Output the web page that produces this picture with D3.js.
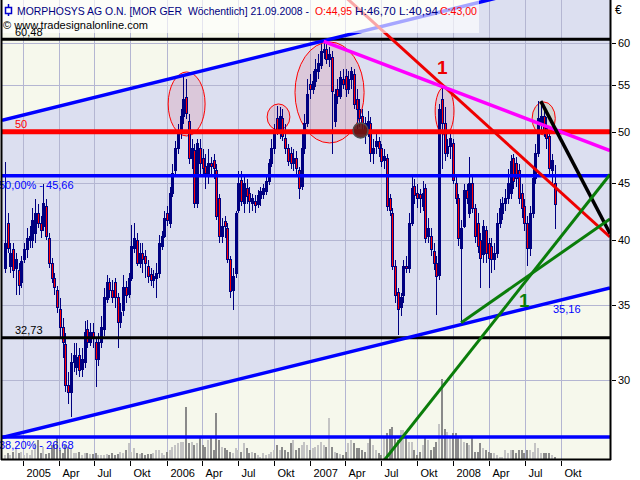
<!DOCTYPE html>
<html><head><meta charset="utf-8">
<script src="https://cdn.jsdelivr.net/npm/d3@7"></script>
<style>html,body{margin:0;padding:0;background:#fff;}svg{display:block;font-family:"Liberation Sans",Arial,sans-serif;}</style>
</head><body><svg id="c" width="640" height="480"></svg>
<script>
// ---------- DATA ----------
const firstWeek = "2004-11-15", lastWeek = "2008-09-15";
const opens = [37.77,41.40,37.9,39.2,37.77,37.6,36.63,38.4,39.2,40.0,
40.0,40.57,42.26,41.40,41.15,42.87,40.15,38.16,37.0,36.1,
34.66,33.41,32.27,29.67,29.25,31.10,30.78,31.55,30.66,31.10,
33.27,32.40,33.07,32.40,31.3,32.40,33.27,35.37,36.63,36.1,
36.63,35.52,33.75,34.6,36.26,35.75,37.0,39.34,40.0,38.16,
38.94,38.7,37.9,37.3,36.85,37.0,37.38,39.5,40.3,42.26,
41.40,44.02,46.15,48.27,49.77,51.53,53.67,51.1,47.29,48.07,
43.13,48.27,47.29,46.52,45.58,46.81,47.1,46.15,43.57,40.3,
41.57,40.98,38.4,36.1,37.38,42.5,45.2,43.13,44.47,44.02,
43.13,43.3,43.0,43.57,43.93,44.2,45.1,46.81,48.27,51.32,
50.08,51.32,49.26,48.27,47.77,46.81,47.29,46.15,44.65,48.27,
50.80,55.13,54.57,55.47,56.62,57.31,58.86,59.22,58.02,58.26,
51.1,54.57,53.79,55.70,56.04,54.57,55.70,56.27,53.46,52.38,
51.53,50.80,49.97,50.80,47.77,48.46,48.96,48.27,47.1,47.29,
43.57,42.26,37.9,35.89,34.80,35.67,37.9,37.77,41.40,44.65,
44.02,43.93,42.87,44.47,40.3,40.3,39.1,38.16,37.23,53.46,
50.80,47.77,48.46,48.76,44.93,43.57,39.34,41.15,44.3,42.26,
44.93,42.69,41.40,40.0,38.8,40.8,39.75,39.5,38.4,38.94,
41.40,42.26,43.13,43.57,44.02,47.29,46.81,46.15,44.02,42.87,
41.40,39.34,42.26,45.39,47.77,50.80,51.53,50.28,49.46,46.15,
44.95];
const highs = [47.0,42.26,39.75,39.75,38.94,38.16,38.7,39.75,40.98,41.15,
42.69,43.57,43.13,42.0,44.93,43.57,40.57,38.55,37.38,36.4,
35.52,34.10,33.07,30.47,31.74,32.40,32.40,32.07,32.07,33.9,
33.96,33.75,33.75,32.73,33.07,34.24,36.26,37.2,37.0,36.85,
37.0,35.89,35.16,37.2,36.78,37.38,41.23,41.40,40.57,39.75,
39.75,39.2,38.4,37.77,37.6,38.16,40.4,40.8,42.5,42.87,
44.65,46.81,49.06,50.80,52.38,56.04,55.70,51.85,49.26,48.76,
49.26,49.26,48.27,47.77,48.27,47.48,47.77,46.81,44.02,41.83,
42.0,41.40,38.7,37.77,42.5,46.15,46.15,45.86,45.39,44.65,
44.02,43.93,44.3,44.65,44.93,45.58,47.29,49.26,50.80,52.7,
52.6,52.38,50.80,48.76,48.46,48.27,48.07,46.52,49.77,51.85,
55.70,56.27,56.62,58.02,58.62,59.83,60.2,59.83,59.46,58.98,
54.57,55.70,56.62,56.85,56.85,56.62,57.08,56.85,54.57,53.46,
52.38,51.53,52.17,51.53,49.26,49.77,49.46,48.76,48.27,47.77,
44.02,42.69,38.4,36.26,35.89,38.4,38.7,42.26,45.86,45.39,
44.93,44.47,45.2,44.93,41.83,40.98,39.75,38.7,52.92,54.8,
52.6,49.26,49.77,49.26,45.58,44.02,41.65,44.93,44.93,47.48,
45.58,43.13,42.26,40.57,41.65,41.15,40.15,40.15,39.75,42.26,
43.57,43.75,44.47,46.33,47.67,47.77,47.48,46.81,44.93,43.57,
42.0,42.87,46.33,48.76,53.24,53.24,52.38,51.53,50.08,47.77,
46.70];
const lows = [37.38,38.94,37.38,37.0,35.75,35.75,36.26,38.16,38.55,39.34,
39.34,39.75,40.98,40.15,40.8,40.0,37.77,36.63,35.75,34.45,
32.73,31.42,29.25,28.54,27.79,30.47,30.28,30.16,30.16,30.78,
32.07,32.2,32.07,29.55,30.9,32.07,32.87,35.16,35.52,35.16,
34.80,32.07,33.41,34.24,35.16,35.52,36.78,38.94,37.9,37.77,
37.38,37.0,36.63,36.4,36.26,35.52,37.0,39.2,40.15,41.15,
40.98,43.75,45.77,47.77,49.26,50.80,51.32,46.81,46.33,42.69,
42.69,45.86,45.58,44.47,44.93,45.86,45.39,41.65,39.75,39.75,
40.15,38.16,35.52,34.66,37.0,42.26,42.87,42.26,43.13,42.26,
42.5,42.26,42.69,42.87,43.57,43.93,44.84,46.52,47.77,49.67,
49.26,49.06,47.77,46.62,46.33,46.15,45.86,43.57,44.3,47.77,
50.49,53.46,54.01,54.8,55.70,56.85,58.02,57.43,57.08,47.77,
50.49,52.92,53.46,54.57,53.67,54.01,54.57,52.38,50.28,50.49,
50.08,48.76,49.46,47.0,46.81,47.77,47.48,46.52,46.33,42.5,
42.0,37.6,35.16,32.93,34.24,35.16,37.38,37.38,41.15,43.13,
42.69,42.26,42.5,39.75,39.75,38.7,37.6,34.31,36.85,46.33,
47.1,47.48,47.29,44.93,43.13,39.5,33.75,40.98,43.13,41.83,
42.26,39.75,38.94,36.26,38.16,38.16,36.26,37.38,37.6,38.55,
40.98,41.65,42.5,43.13,43.57,44.47,44.65,43.13,41.83,40.8,
37.9,38.7,41.83,44.93,47.48,49.77,49.46,48.27,45.86,44.93,
40.94];
const closes = [39.75,39.34,38.94,37.6,38.4,36.4,38.3,39.2,40.15,40.3,
41.65,42.26,41.40,40.8,43.13,40.3,38.16,37.0,36.26,34.8,
33.41,32.40,29.67,29.25,31.10,31.55,31.42,30.6,31.3,33.07,
32.40,33.07,32.73,31.3,32.40,33.41,35.52,36.63,36.1,35.52,
35.52,33.75,34.45,36.26,35.67,37.0,39.5,40.15,38.16,38.94,
38.4,38.16,37.15,36.85,37.15,37.38,39.75,40.3,41.83,41.65,
44.02,45.86,48.27,49.97,51.53,53.46,51.85,47.29,48.27,43.13,
48.76,46.81,46.33,45.86,46.81,46.52,46.33,42.0,40.3,41.15,
41.15,38.4,36.0,37.15,42.26,44.93,43.3,44.93,43.75,43.3,
43.57,42.95,43.84,44.2,44.47,45.1,46.81,48.27,49.77,50.08,
51.53,49.46,48.27,47.0,46.81,47.29,46.33,44.47,48.27,50.80,
54.01,54.57,55.47,56.85,57.55,58.98,59.22,58.02,58.62,54.35,
54.01,53.79,55.93,55.13,54.57,55.70,56.62,52.92,52.38,51.32,
50.80,49.77,51.1,47.77,48.27,48.96,48.27,47.0,47.48,42.87,
42.5,37.9,35.67,34.66,35.52,37.9,37.77,41.40,44.47,43.84,
43.57,43.57,44.02,40.15,40.98,39.2,38.16,37.15,52.38,50.80,
47.77,48.46,49.26,45.2,43.57,40.15,40.98,44.3,43.57,44.93,
42.69,40.3,39.5,38.55,41.15,38.94,38.55,38.4,38.94,41.40,
42.69,43.13,43.57,44.93,47.0,45.1,45.39,43.57,42.69,41.40,
39.34,42.26,45.39,47.77,51.32,51.53,50.08,49.26,46.33,47.1,
43.00];
// weekly volume, thousand shares
const volumes = [40,60,40,70,110,60,70,40,60,40,
90,160,190,60,120,50,60,140,140,220,
90,60,140,120,110,60,60,70,40,60,
60,50,50,60,40,40,40,50,40,60,
40,50,70,60,90,160,70,110,60,50,
60,40,50,50,60,90,90,60,40,70,
90,120,140,160,170,170,520,160,170,140,
160,210,140,120,190,220,90,460,190,120,
110,90,70,60,110,90,70,160,110,60,
70,60,40,20,60,40,50,70,90,140,
90,120,90,70,160,190,90,110,140,170,
140,90,110,120,140,170,140,120,410,120,
70,60,50,40,70,160,190,160,110,110,
90,70,160,220,140,90,60,40,210,260,
300,320,220,190,290,290,210,170,170,90,
40,70,140,220,190,90,120,170,350,800,
300,270,210,260,260,210,210,170,160,140,
220,70,70,160,110,90,70,60,60,40,
20,20,90,60,90,90,60,90,90,60,
90,90,70,160,110,60,60,60,60,40,
20];
const priceTicks = [30,35,40,45,50,55,60];
const quarterNames = ["", "Apr", "Jul", "Okt"];
const levelValues = [60.48, 50, 45.66, 32.73, 26.68];
const levelLabels = ["60,48", "50", "50,00% - 45,66", "32,73", "38,20% - 26,68"];
// trendlines: two anchors [date, price]
const channelUpper = [["2006-01-01",55.65],["2008-01-01",64.38]];
const channelLower = [["2006-01-01",28.97],["2008-01-01",33.49]];
const redTrend     = [["2008-01-01",53.94],["2008-10-01",44.13]];
const magentaTrend = [["2007-02-05",60.2],["2008-10-01",49.98]];
const blackTrend   = [["2008-08-11",53.24],["2008-10-01",49.21]];
const greenSteep   = [["2008-01-01",30.44],["2008-10-01",40.28]];
const greenShallow = [["2008-01-21",33.75],["2008-10-01",38.94]];
// highlighted zones: [date from, date to, price high, price low]
const zones = [["2006-01-05","2006-04-09",56.53,49.56],
               ["2006-09-14","2006-11-11",52.93,50.17],
               ["2006-11-24","2007-05-19",60.13,48.85],
               ["2007-11-16","2008-01-03",54.81,49.66],
               ["2008-07-20","2008-09-17",53.15,49.66]];
const marker = ["2007-05-10", 50.12];
const lowerChannelLabel = "35,16";
const headerParts = ["MORPHOSYS AG O.N. [MOR GER  Wöchentlich] 21.09.2008 -","O:44,95","H:46,70 L:40,94","C:43,00"];
const copyright = "© www.tradesignalonline.com";

// ---------- CHART ----------
const D = s => new Date(s + "T00:00:00Z");
const weeks = d3.utcMonday.range(D(firstWeek), d3.utcDay.offset(D(lastWeek), 1));
const P = {l:2, r:610, t:0, b:459};
const x = d3.scaleUtc().domain([D("2005-01-01"), D("2008-10-01")]).range([23.3, 560.8]);
const y = d3.scaleLog().domain([30, 60]).range([380, 43]);
const vh = d3.scaleLinear().domain([0, 800]).range([0, 80]);

const svg = d3.select("#c");
svg.append("defs").append("clipPath").attr("id","clip").append("rect")
  .attr("x",P.l).attr("y",P.t).attr("width",P.r-P.l).attr("height",P.b-P.t);
const g = svg.append("g").attr("clip-path","url(#clip)");

function line(a){
  const x0=x(D(a[0][0])), y0=y(a[0][1]), x1=x(D(a[1][0])), y1=y(a[1][1]);
  const m=(y1-y0)/(x1-x0);
  return {x0, f: xx => y0 + m*(xx-x0)};
}
const cream = "#f6f8ec", lav = "#dcdff0";
g.append("rect").attr("x",P.l).attr("y",P.t).attr("width",P.r-P.l).attr("height",P.b-P.t).attr("fill",cream);
const U = line(channelUpper), L = line(channelLower);
g.append("path").attr("fill",lav)
  .attr("d", d3.line()([[P.l,U.f(P.l)],[P.r,U.f(P.r)],[P.r,L.f(P.r)],[P.l,L.f(P.l)]]));

// grid
const qTicks = d3.utcMonth.every(3).range(D("2005-01-01"), D("2008-10-02"));
const grid = g.append("g").attr("stroke","#b4b6d2").attr("stroke-width",1).attr("shape-rendering","crispEdges");
qTicks.forEach(d => { const xx=Math.round(x(d))+0.5; grid.append("line").attr("x1",xx).attr("x2",xx).attr("y1",P.t).attr("y2",P.b); });
priceTicks.forEach(p => { const yy=Math.round(y(p))+0.5; grid.append("line").attr("x1",P.l).attr("x2",P.r).attr("y1",yy).attr("y2",yy); });

// volume
const vg = g.append("g").attr("shape-rendering","crispEdges");
weeks.forEach((d,i) => {
  const xx = Math.round(x(d));
  vg.append("rect").attr("x",xx-1).attr("width",2).attr("y",P.b-vh(volumes[i])).attr("height",vh(volumes[i]))
    .attr("fill", closes[i] < opens[i] ? "#8a8a8a" : "#c4c4c4");
});

// zones
zones.forEach((z,i) => {
  const x0=x(D(z[0])), x1=x(D(z[1])), y0=y(z[2]), y1=y(z[3]);
  g.append("ellipse").attr("cx",(x0+x1)/2).attr("cy",(y0+y1)/2).attr("rx",(x1-x0)/2).attr("ry",(y1-y0)/2)
    .attr("fill", i===4 ? "rgba(185,195,150,0.35)" : "rgba(220,120,140,0.22)")
    .attr("stroke","#ff0000").attr("stroke-width",1);
});

// candles
const cg = g.append("g").attr("shape-rendering","crispEdges");
weeks.forEach((d,i) => {
  const xx = Math.round(x(d));
  const o=opens[i], c=closes[i], hi=Math.max(highs[i],o,c), lo=Math.min(lows[i],o,c);
  cg.append("line").attr("x1",xx+0.5).attr("x2",xx+0.5).attr("y1",y(hi)).attr("y2",y(lo)).attr("stroke","#000080").attr("stroke-width",1);
  const top=y(Math.max(o,c)), bot=y(Math.min(o,c));
  cg.append("rect").attr("x",xx-0.5).attr("width",2).attr("y",top).attr("height",Math.max(1,bot-top))
    .attr("fill", c<o ? "#ff0000" : "none").attr("stroke","#000080").attr("stroke-width",1);
});

// horizontal levels
const levelColors = ["#000000","#ff0000","#0000ff","#000000","#0000ff"];
const levelWidths = [3,5,3.5,3,3.5];
levelValues.forEach((v,i) => {
  g.append("line").attr("x1",P.l).attr("x2",P.r).attr("y1",y(v)).attr("y2",y(v))
   .attr("stroke",levelColors[i]).attr("stroke-width",levelWidths[i]);
});

// trendlines
function drawTrend(a, color, w, fromAnchor){
  const t = line(a); const xs = fromAnchor ? t.x0 : P.l;
  g.append("line").attr("x1",xs).attr("y1",t.f(xs)).attr("x2",P.r).attr("y2",t.f(P.r))
   .attr("stroke",color).attr("stroke-width",w);
}
drawTrend(channelUpper,"#0000ff",3.5,false);
drawTrend(channelLower,"#0000ff",3.5,false);
drawTrend(redTrend,"#ee0000",3,false);
drawTrend(magentaTrend,"#ff00ff",3.5,true);
drawTrend(blackTrend,"#000000",3.5,true);
drawTrend(greenSteep,"#0a7d0a",3,false);
drawTrend(greenShallow,"#0a7d0a",3,true);

// marker
g.append("circle").attr("cx",x(D(marker[0]))).attr("cy",y(marker[1])).attr("r",7.5)
  .attr("fill","rgba(95,20,20,0.9)").attr("stroke","#505050").attr("stroke-width",1.5);

g.append("text").attr("x",437).attr("y",74).attr("fill","#ee0000").attr("font-size",19).attr("font-weight","bold").text("1");
g.append("text").attr("x",519).attr("y",307).attr("fill","#0a7d0a").attr("font-size",19).attr("font-weight","bold").text("1");
g.append("text").attr("x",553).attr("y",313).attr("fill","#0000ff").attr("font-size",11).text(lowerChannelLabel);

// header
const hg = svg.append("g");
hg.append("rect").attr("x",0).attr("y",0).attr("width",479).attr("height",33).attr("fill","rgba(255,255,255,0.65)");
hg.append("line").attr("x1",8.5).attr("x2",8.5).attr("y1",4).attr("y2",16).attr("stroke","#0000cc").attr("stroke-width",1.5);
hg.append("rect").attr("x",5.5).attr("y",7.5).attr("width",6).attr("height",6).attr("fill","#fff").attr("stroke","#0000cc").attr("stroke-width",1.5);
const hx = [[17,292],[315,37],[355,83],[440,37]];
const hc = ["#000080","#ff0000","#000080","#ff0000"];
const ht = hg.append("text").attr("y",15).attr("font-size",11.5).style("white-space","pre");
headerParts.forEach((t,i) => ht.append("tspan").attr("x",hx[i][0]).attr("fill",hc[i])
  .attr("textLength",hx[i][1]).attr("lengthAdjust","spacingAndGlyphs").text(t));
hg.append("text").attr("x",3).attr("y",29).attr("font-size",11.5).attr("fill","#000")
  .attr("textLength",145).attr("lengthAdjust","spacingAndGlyphs").text(copyright);

// level labels (on top of header, left part may be cut at the edge)
const lg = svg.append("g").attr("font-size",11);
const labelPos = [[15,36],[15,128],[-1,189],[15,334],[-1,449]];
const labelColors = ["#000","#ff0000","#0000ff","#000","#0000ff"];
levelLabels.forEach((t,i) => lg.append("text").attr("x",labelPos[i][0]).attr("y",labelPos[i][1]).attr("fill",labelColors[i]).text(t));

// frame & axes
svg.append("line").attr("x1",1.5).attr("x2",1.5).attr("y1",0).attr("y2",P.b+1).attr("stroke","#000").attr("stroke-width",2);
svg.append("line").attr("x1",P.r+0.5).attr("x2",P.r+0.5).attr("y1",0).attr("y2",P.b+1).attr("stroke","#000").attr("stroke-width",2);
svg.append("line").attr("x1",1).attr("x2",P.r+1).attr("y1",P.b+0.5).attr("y2",P.b+0.5).attr("stroke","#000").attr("stroke-width",2);
const ax = svg.append("g").attr("font-size",11).attr("fill","#000");
qTicks.forEach(d => {
  const xx = Math.round(x(d))+0.5;
  ax.append("line").attr("x1",xx).attr("x2",xx).attr("y1",P.b+2).attr("y2",P.b+7).attr("stroke","#000").attr("shape-rendering","crispEdges");
  const q = d.getUTCMonth()/3;
  ax.append("text").attr("x",xx+3).attr("y",477).text(q===0 ? String(d.getUTCFullYear()) : quarterNames[q]);
});
priceTicks.forEach(p => {
  const yy = Math.round(y(p))+0.5;
  ax.append("line").attr("x1",P.r+2).attr("x2",P.r+6).attr("y1",yy).attr("y2",yy).attr("stroke","#000").attr("shape-rendering","crispEdges");
  ax.append("text").attr("x",P.r+8).attr("y",yy).attr("dy","0.35em").text(p);
});
ax.append("text").attr("x",615).attr("y",14).attr("font-size",12).text("€");
</script></body></html>
